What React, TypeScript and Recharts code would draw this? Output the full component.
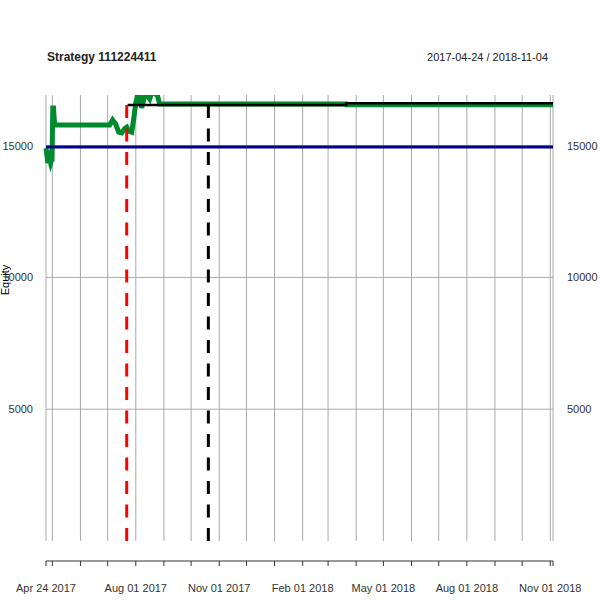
import React from "react";
import { CartesianGrid, ComposedChart, Line, ReferenceLine, XAxis, YAxis } from "recharts";

// all x values are days since 2017-04-24
const startDate = "2017-04-24";
const endDate = "2018-11-04";

const tickDates = [
  "2017-04-24", "2017-05-01", "2017-06-01", "2017-07-01", "2017-08-01", "2017-09-01",
  "2017-10-01", "2017-11-01", "2017-12-01", "2018-01-01", "2018-02-01", "2018-03-01",
  "2018-04-01", "2018-05-01", "2018-06-01", "2018-07-01", "2018-08-01", "2018-09-01",
  "2018-10-01", "2018-11-01", "2018-11-04",
];
const labelDates = ["2017-04-24", "2017-08-01", "2017-11-01", "2018-02-01", "2018-05-01", "2018-08-01", "2018-11-01"];
const monthNames = ["Jan", "Feb", "Mar", "Apr", "May", "Jun", "Jul", "Aug", "Sep", "Oct", "Nov", "Dec"];

const equityDays = [
  0, 1, 2, 3.5, 5, 6, 6.6, 7.5, 8.3, 9.5, 70.2, 73.5, 76.8, 80.2, 83.5, 86.8, 89, 91, 94.5,
  96.7, 98.9, 100.5, 103.3, 105.5, 108.8, 112, 114.3, 116.5, 119.8, 123, 125.3, 331, 331.5, 559,
];
const equityValues = [
  14900, 14640, 14340, 14520, 14330, 14450, 14400, 16430, 16430, 15780, 15780, 15970, 15820, 15510,
  15480, 15650, 15700, 15550, 15510, 16000, 16600, 16850, 16850, 16430, 16880, 16880, 16770, 17000,
  17000, 16880, 16580, 16580, 16550, 16550,
];

const peakDays = [90, 331, 559];
const peakValues = [16540, 16605, 16605];

const baseDays = [0, 559];
const baseValues = [14950, 14950];

const yTicks = [5000, 10000, 15000];
const yMax = 16920;

const inSampleEnd = "2017-07-22";
const outSampleEnd = "2017-10-20";

const dayOf = (s: string) => {
  const [y, m, d] = s.split("-").map(Number);
  const [y0, m0, d0] = startDate.split("-").map(Number);
  return Math.round((Date.UTC(y, m - 1, d) - Date.UTC(y0, m0 - 1, d0)) / 86400000);
};

const fmtDay = (day: number) => {
  const [y0, m0, d0] = startDate.split("-").map(Number);
  const dt = new Date(Date.UTC(y0, m0 - 1, d0) + day * 86400000);
  const dd = String(dt.getUTCDate()).padStart(2, "0");
  return `${monthNames[dt.getUTCMonth()]} ${dd} ${dt.getUTCFullYear()}`;
};

const xTicks = tickDates.map(dayOf);
const labelDays = labelDates.map(dayOf);
const lastDay = dayOf(endDate);

const equity = equityDays.map((d, i) => ({ day: d, value: equityValues[i] }));
const peak = peakDays.map((d, i) => ({ day: d, value: peakValues[i] }));
const base = baseDays.map((d, i) => ({ day: d, value: baseValues[i] }));

const font = "'Liberation Sans', Arial, sans-serif";
const tickStyle = { fill: "#333", fontSize: 11, fontFamily: font };

export default function App() {
  return (
    <div style={{ position: "relative", width: 600, height: 600, background: "#fff" }}>
      <style>{"body{margin:0}"}</style>
      <ComposedChart width={600} height={600} margin={{ top: 95, right: 0, bottom: 0, left: 0 }}>
        <CartesianGrid xAxisId="a" yAxisId="l" stroke="#aaa" strokeWidth={1} fill="none" horizontal={false} />
        {yTicks.map((v) => (
          <ReferenceLine key={v} xAxisId="a" yAxisId="l" y={v} stroke="#aaa" strokeWidth={1} />
        ))}
        <XAxis
          xAxisId="a"
          type="number"
          dataKey="day"
          domain={[0, lastDay]}
          ticks={xTicks}
          interval={0}
          height={20}
          tickFormatter={() => ""}
          axisLine={false}
          tickLine={false}
        />
        <XAxis
          xAxisId="b"
          type="number"
          dataKey="day"
          domain={[0, lastDay]}
          ticks={xTicks}
          interval={0}
          height={39}
          tickSize={5}
          tickMargin={18}
          axisLine={{ stroke: "#333" }}
          tickLine={{ stroke: "#333" }}
          tick={tickStyle}
          tickFormatter={(v: number) => (labelDays.includes(v) ? fmtDay(v) : "")}
        />
        <YAxis
          yAxisId="l"
          width={46}
          domain={[0, yMax]}
          allowDataOverflow
          ticks={yTicks}
          axisLine={false}
          tickLine={false}
          tickSize={0}
          tickMargin={13}
          tick={tickStyle}
        />
        <YAxis
          yAxisId="r"
          orientation="right"
          width={47}
          domain={[0, yMax]}
          allowDataOverflow
          ticks={yTicks}
          axisLine={false}
          tickLine={false}
          tickSize={0}
          tickMargin={14}
          tick={tickStyle}
        />
        {/* invisible series so the lower date axis gets a scale */}
        <Line
          xAxisId="b"
          yAxisId="r"
          data={base}
          dataKey="value"
          stroke="none"
          dot={false}
          activeDot={false}
          isAnimationActive={false}
        />
        <Line
          xAxisId="a"
          yAxisId="l"
          data={equity}
          dataKey="value"
          type="linear"
          stroke="#008a2e"
          strokeWidth={5}
          dot={false}
          activeDot={false}
          isAnimationActive={false}
        />
        <Line
          xAxisId="a"
          yAxisId="l"
          data={base}
          dataKey="value"
          type="linear"
          stroke="#00008b"
          strokeWidth={3}
          dot={false}
          activeDot={false}
          isAnimationActive={false}
        />
        <Line
          xAxisId="a"
          yAxisId="l"
          data={peak}
          dataKey="value"
          type="stepAfter"
          stroke="#000"
          strokeWidth={2.5}
          dot={false}
          activeDot={false}
          isAnimationActive={false}
        />
        <ReferenceLine xAxisId="a" yAxisId="l" x={dayOf(inSampleEnd)} stroke="#ff0000" strokeWidth={3} strokeDasharray="13 10.5" />
        <ReferenceLine xAxisId="a" yAxisId="l" x={dayOf(outSampleEnd)} stroke="#000" strokeWidth={3} strokeDasharray="13 10.5" />
      </ComposedChart>
      <svg width={600} height={600} style={{ position: "absolute", left: 0, top: 0, pointerEvents: "none" }}>
        <text x={47} y={61} fontFamily={font} fontSize={12} fontWeight="bold" fill="#222">
          Strategy 111224411
        </text>
        <text x={548} y={61} fontFamily={font} fontSize={11} fill="#222" textAnchor="end">
          2017-04-24 / 2018-11-04
        </text>
        <text x={9} y={280} fontFamily={font} fontSize={11} fill="#000" textAnchor="middle" transform="rotate(-90 9 280)">
          Equity
        </text>
      </svg>
    </div>
  );
}
